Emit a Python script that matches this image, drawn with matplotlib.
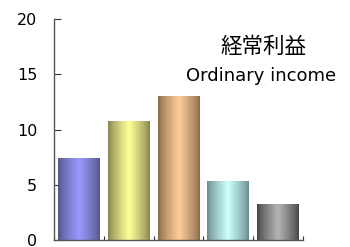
import numpy as np
import matplotlib
matplotlib.use("Agg")
import matplotlib.pyplot as plt
from matplotlib.colors import to_rgb

plt.rcParams['font.family'] = ['DejaVu Sans', 'Noto Sans CJK JP']

# data
categories = ["A", "B", "C", "D", "E"]
values = [7.35, 10.7, 12.95, 5.25, 3.25]
center_colors = ["#9a9aff", "#ffff99", "#ffcc99", "#ccffff", "#b4b4b4"]
edge_colors = ["#555588", "#85854e", "#8a6a4a", "#6a8a8a", "#444444"]
yticks = [0, 5, 10, 15, 20]

fig = plt.figure(figsize=(3.5, 2.47), dpi=100)
ax = fig.add_axes([0.1543, 0.0283, 0.7114, 0.8947])

x = np.arange(len(categories))
bars = ax.bar(x, values, width=0.84, color="none", edgecolor="none")

# horizontal gradient: dark edges, light centre
t = np.linspace(0, 1, 64)
w = 1 - np.abs(t - 0.5) * 2
for b, c0, c1 in zip(bars, center_colors, edge_colors):
    a, e = np.array(to_rgb(c0)), np.array(to_rgb(c1))
    img = e[None, :] + (a - e)[None, :] * (w ** 0.8)[:, None]
    ax.imshow(img[None, :, :], extent=[b.get_x(), b.get_x() + b.get_width(), 0, b.get_height()],
              aspect="auto", interpolation="bilinear", zorder=2)

ax.set_xlim(-0.5, len(categories) - 0.5)
ax.set_ylim(0, 20)
ax.set_yticks(yticks)
ax.set_xticks(np.arange(len(categories) + 1) - 0.5)
ax.set_xticklabels([])
ax.tick_params(axis="y", direction="in", length=5, labelsize=11.5, pad=12, color="#333333")
ax.tick_params(axis="x", direction="in", length=3, color="#333333")
for s in ["top", "right"]:
    ax.spines[s].set_visible(False)
for s in ["left", "bottom"]:
    ax.spines[s].set_color("#555555")
    ax.spines[s].set_linewidth(1)

ax.text(0.84, 0.873, "経常利益", transform=ax.transAxes, ha="center", va="center",
        fontsize=15.5, family=['Noto Sans CJK JP', 'DejaVu Sans'])
ax.text(0.83, 0.742, "Ordinary income", transform=ax.transAxes, ha="center", va="center", fontsize=13)

fig.savefig("out.png", dpi=100)
